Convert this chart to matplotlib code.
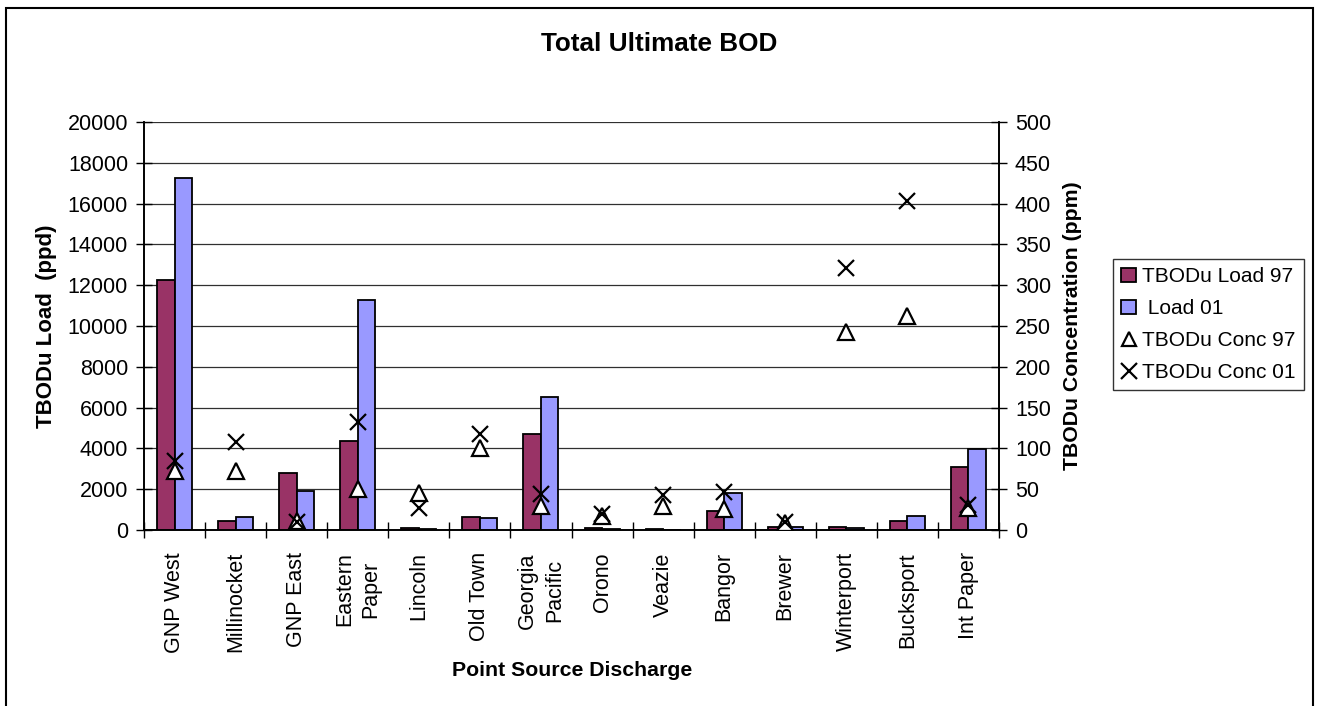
import matplotlib
matplotlib.use("Agg")
import matplotlib.pyplot as plt
import numpy as np
from matplotlib.patches import Rectangle
from matplotlib.lines import Line2D
from matplotlib.patches import Patch

plt.rcParams['font.family'] = ['Liberation Sans', 'DejaVu Sans']

categories = ["GNP West", "Millinocket", "GNP East", "Eastern\nPaper", "Lincoln",
              "Old Town", "Georgia\nPacific", "Orono", "Veazie", "Bangor", "Brewer",
              "Winterport", "Bucksport", "Int Paper"]
load_97 = [12270, 441, 2780, 4366, 114, 638, 4710, 80, 30, 932, 164, 164, 441, 3107]
load_01 = [17250, 621, 1913, 11284, 50, 589, 6508, 60, 20, 1832, 130, 114, 703, 3974]
conc_97 = [72, 72, 11, 50, 45, 101, 29, 17, 29, 26, 8, 243, 262, 27]
conc_01 = [84, 108, 10, 132, 27, 118, 44, 20, 43, 46, 10, 321, 403, 31]
left_ticks = [0, 2000, 4000, 6000, 8000, 10000, 12000, 14000, 16000, 18000, 20000]
right_ticks = [0, 50, 100, 150, 200, 250, 300, 350, 400, 450, 500]

W, H = 1321, 706
fig = plt.figure(figsize=(W/100, H/100), dpi=100)

# outer border
fig.patches.append(Rectangle((6/W, -0.02), (1313-6)/W, 1 - 8/H + 0.02,
                             transform=fig.transFigure, fill=False,
                             edgecolor='black', linewidth=1.5))

ax = fig.add_axes([144/W, 1-530/H, (999-144)/W, (530-122)/H])
ax2 = ax.twinx()

x = np.arange(len(categories))
bw = 0.287
ax.bar(x - bw/2, load_97, width=bw, color='#993366', edgecolor='black', linewidth=1.3, zorder=3)
ax.bar(x + bw/2, load_01, width=bw, color='#9999FF', edgecolor='black', linewidth=1.3, zorder=3)

ax.set_xlim(-0.5, len(categories) - 0.5)
ax.set_ylim(0, 20000)
ax.set_yticks(left_ticks)
ax.set_yticklabels([str(v) for v in left_ticks])
for v in left_ticks[1:]:
    ax.axhline(v, color='#303030', linewidth=0.9, zorder=1)

ax2.plot(x, conc_97, linestyle='none', marker='^', markersize=11, markerfacecolor='white',
         markeredgecolor='black', markeredgewidth=1.6, zorder=5)
ax2.plot(x, conc_01, linestyle='none', marker='x', markersize=12, markeredgecolor='black',
         markeredgewidth=1.6, zorder=5)
ax2.set_ylim(0, 500)
ax2.set_yticks(right_ticks)
ax2.set_yticklabels([str(v) for v in right_ticks])

# category ticks at boundaries
ax.set_xticks(np.arange(len(categories) + 1) - 0.5)
ax.set_xticklabels([])
ax.set_xticks(x, minor=True)
ax.set_xticklabels(categories, minor=True, rotation=90, fontsize=15.5, va='top',
                   ha='center', linespacing=1.35)
ax.tick_params(axis='x', which='minor', length=0, pad=16)
ax.tick_params(axis='x', which='major', direction='inout', length=12, width=1)

ax.tick_params(axis='y', direction='inout', length=11, width=1, labelsize=15.5, pad=6)
ax2.tick_params(axis='y', direction='inout', length=11, width=1, labelsize=15.5, pad=6)

for a in (ax, ax2):
    a.spines['top'].set_visible(False)
    for s in ('left', 'right', 'bottom'):
        a.spines[s].set_linewidth(1.2)
        a.spines[s].set_color('black')
ax.set_zorder(ax2.get_zorder() - 1)
ax.patch.set_visible(False)
ax2.patch.set_visible(False)

fig.text(659/W, 1-44/H, "Total Ultimate BOD", ha='center', va='center',
         fontsize=18.8, fontweight='bold')
fig.text(47/W, 1-326/H, "TBODu Load  (ppd)", ha='center', va='center', rotation=90,
         fontsize=16, fontweight='bold')
fig.text(1073/W, 1-326/H, "TBODu Concentration (ppm)", ha='center', va='center',
         rotation=90, fontsize=15.3, fontweight='bold')
fig.text(572/W, 1-671/H, "Point Source Discharge", ha='center', va='center',
         fontsize=15.3, fontweight='bold')

handles = [
    Patch(facecolor='#993366', edgecolor='black', linewidth=1.3),
    Patch(facecolor='#9999FF', edgecolor='black', linewidth=1.3),
    Line2D([], [], linestyle='none', marker='^', markersize=10, markerfacecolor='white',
           markeredgecolor='black', markeredgewidth=1.6),
    Line2D([], [], linestyle='none', marker='x', markersize=11, markeredgecolor='black',
           markeredgewidth=1.6),
]
labels = ["TBODu Load 97", " Load 01", "TBODu Conc 97", "TBODu Conc 01"]
leg = fig.legend(handles, labels, loc='upper left',
                 bbox_to_anchor=(1113/W, 1-259/H), fontsize=15, frameon=True,
                 fancybox=False, edgecolor='black', handlelength=0.7, handleheight=0.7,
                 handletextpad=0.3, borderpad=0.4, labelspacing=0.62, borderaxespad=0)
leg.get_frame().set_linewidth(1.0)

fig.savefig("out.png", dpi=100)
